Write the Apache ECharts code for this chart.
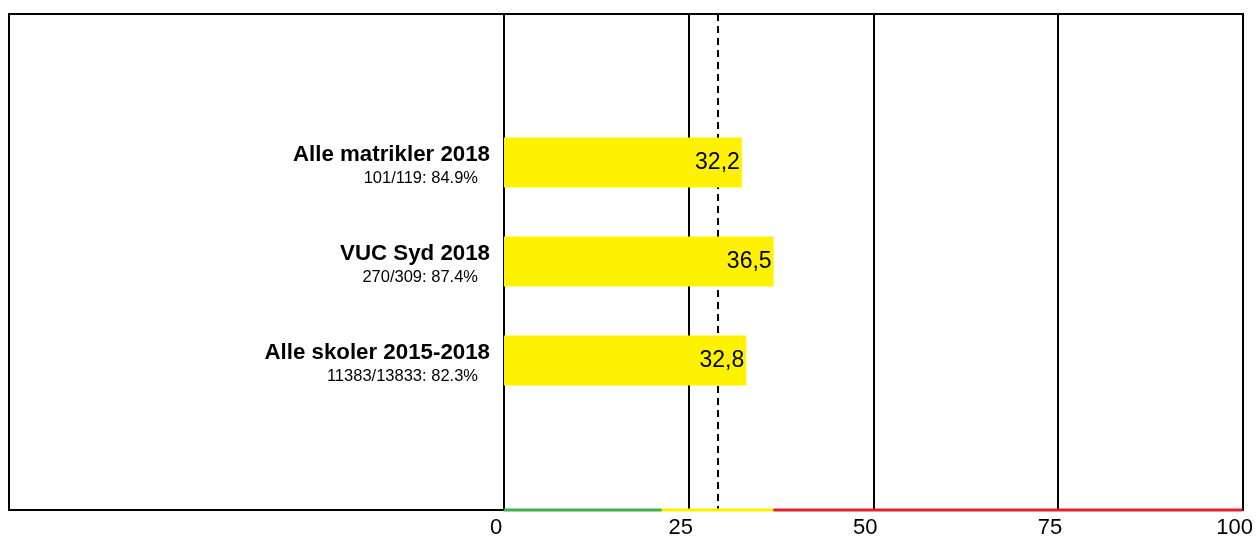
<!DOCTYPE html>
<html><head><meta charset="utf-8">
<script src="https://cdn.jsdelivr.net/npm/echarts@6/dist/echarts.min.js"></script>
<style>html,body{margin:0;padding:0;background:#fff}#c{width:1256px;height:539px}</style>
</head><body><div id="c"></div>
<script>
var categories = ['', 'Alle matrikler 2018', 'VUC Syd 2018', 'Alle skoler 2015-2018', ''];
var subtitles = ['', '101/119: 84.9%', '270/309: 87.4%', '11383/13833: 82.3%', ''];
var values = [null, 32.2, 36.5, 32.8, null];
var referenceValue = 29;
var bandStops = [0, 21.3, 36.5, 100];
var bandColors = ['#3db24a', '#fff200', '#e0232e'];
var xTicks = [0, 25, 50, 75, 100];

var chart = echarts.init(document.getElementById('c'), null, {renderer: 'canvas'});
var FONT = '"Liberation Sans", Arial, sans-serif';
var GL = 504, GT = 14, GR = 13, GB = 29;

chart.setOption({
  animation: false,
  backgroundColor: '#fff',
  grid: {left: GL, right: GR, top: GT, bottom: GB, containLabel: false},
  xAxis: {
    type: 'value', min: 0, max: 100, interval: 25,
    axisLine: {show: false}, axisTick: {show: false},
    splitLine: {show: true, lineStyle: {color: '#000', width: 2}},
    axisLabel: {fontFamily: FONT, fontSize: 22, color: '#000', margin: 8,
      padding: [0, 16, 0, 0],
      formatter: function (v) { return xTicks.indexOf(v) >= 0 ? String(v) : ''; }}
  },
  yAxis: {
    type: 'category', data: categories, inverse: true,
    axisLine: {show: false}, axisTick: {show: false},
    axisLabel: {
      margin: 14, align: 'right', padding: [8, 0, 0, 0],
      formatter: function (v, i) {
        if (!v) return '';
        return '{b|' + v + '}\n{s|' + subtitles[i] + '}';
      },
      rich: {
        b: {fontFamily: FONT, fontSize: 22.3, fontWeight: 'bold', color: '#000', lineHeight: 24, align: 'right'},
        s: {fontFamily: FONT, fontSize: 16.5, color: '#000', lineHeight: 23, align: 'right', padding: [0, 12, 0, 0]}
      }
    }
  },
  series: [{
    type: 'line', data: [], z: 1, silent: true,
    markLine: {
      silent: true, symbol: 'none', label: {show: false},
      lineStyle: {color: '#000', type: [7, 5], width: 2},
      data: [{xAxis: referenceValue}]
    }
  }, {
    type: 'bar', data: values, barWidth: 50,
    itemStyle: {color: '#fff200'},
    label: {show: true, position: 'insideRight', distance: 2, fontFamily: FONT, fontSize: 23, color: '#000',
      formatter: function (p) { return p.value == null ? '' : p.value.toFixed(1).replace('.', ','); }},
    z: 5
  }]
});

function drawExtras() {
  var graphics = [];
  var bottomY = 539 - GB;
  graphics.push({type: 'rect', shape: {x: 9, y: GT, width: 1234, height: bottomY - GT},
    style: {fill: null, stroke: '#000', lineWidth: 2}, z: 10});
  for (var i = 0; i < bandColors.length; i++) {
    var x1 = chart.convertToPixel({xAxisIndex: 0}, bandStops[i]);
    var x2 = chart.convertToPixel({xAxisIndex: 0}, bandStops[i + 1]);
    graphics.push({type: 'line', shape: {x1: x1, y1: bottomY, x2: x2, y2: bottomY},
      style: {stroke: bandColors[i], lineWidth: 3}, z: 11});
  }
  chart.setOption({graphic: graphics});
}
drawExtras();
</script></body></html>
